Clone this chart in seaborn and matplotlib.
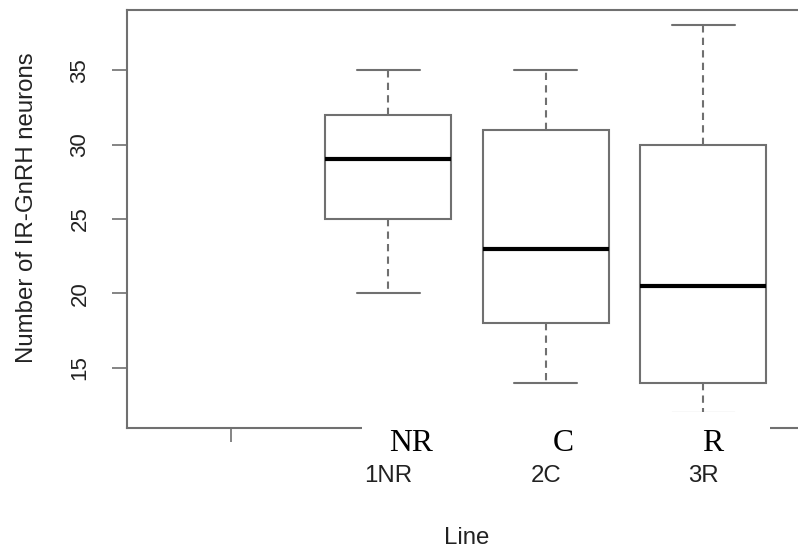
import numpy as np
import pandas as pd
import matplotlib
matplotlib.use("Agg")
import matplotlib.pyplot as plt
import seaborn as sns
from matplotlib.patches import Rectangle

# ---- data (five-number summaries) ----
line_order = ["", "1NR", "2C", "3R"]
nr_values = [20, 25, 29, 32, 35]
c_values = [14, 18, 23, 31, 35]
r_values = [12, 14, 20.5, 30, 38]
overlay_labels = ["NR", "C", "R"]
y_ticks = [15, 20, 25, 30, 35]

df = pd.DataFrame({
    "Line": ["1NR"] * len(nr_values) + ["2C"] * len(c_values) + ["3R"] * len(r_values),
    "count": nr_values + c_values + r_values,
})

sns.set_style("white")
plt.rcParams["font.family"] = ["Liberation Sans", "DejaVu Sans"]

W, H = 798, 550
fig = plt.figure(figsize=(W / 100, H / 100), dpi=100)


def px(l, t, r, b):
    return [l / W, 1 - b / H, (r - l) / W, (b - t) / H]


ax = fig.add_axes(px(127, 10, 807, 428))
grey = "#707070"
sns.boxplot(
    data=df, x="Line", y="count", order=line_order, width=0.8,
    color="white", linecolor=grey, linewidth=1.5, whis=1.5,
    showfliers=False,
    medianprops=dict(color="black", linewidth=3),
    whiskerprops=dict(linestyle=(0, (3.5, 2.5))),
    ax=ax,
)

ax.set_xlim(-0.66, 3.66)
ax.set_ylim(10.96, 39.04)
ax.set_yticks(y_ticks)
ax.set_yticklabels([str(v) for v in y_ticks], rotation=90, va="center")
ax.set_xticks(range(len(line_order)))
ax.set_xticklabels(line_order)

for s in ["left", "top", "bottom", "right"]:
    ax.spines[s].set_visible(True)
    ax.spines[s].set_color(grey)
    ax.spines[s].set_linewidth(1.5)

ax.tick_params(axis="y", length=10.8, width=1.2, color=grey, labelsize=16,
               pad=15.5, labelcolor="#222222", left=True)
ax.tick_params(axis="x", length=10, width=1.2, color=grey, labelsize=17.3,
               pad=17, labelcolor="#222222", bottom=True)

ax.set_xlabel("Line", fontsize=17.3, color="#222222")
ax.xaxis.set_label_coords(0.5, -(527 - 428) / 418)
ax.xaxis.label.set_va("top")
ax.set_ylabel("Number of IR-GnRH neurons", fontsize=17.3, color="#222222")
ax.yaxis.set_label_coords((38 - 127) / 680, (428 - 208) / 418)

# white overlay patch with serif relabels
fig.patches.append(Rectangle((362 / W, 1 - 458 / H), (770 - 362) / W, (458 - 412) / H,
                             transform=fig.transFigure, facecolor="white",
                             edgecolor="none", zorder=5))
overlay_x = [411, 563, 713]
for lab, xp in zip(overlay_labels, overlay_x):
    fig.text(xp / W, 1 - 451 / H, lab, ha="center", va="baseline",
             fontsize=22.8, family=["Liberation Serif", "DejaVu Serif"],
             color="black", zorder=6)

fig.savefig("out.png", dpi=100)
